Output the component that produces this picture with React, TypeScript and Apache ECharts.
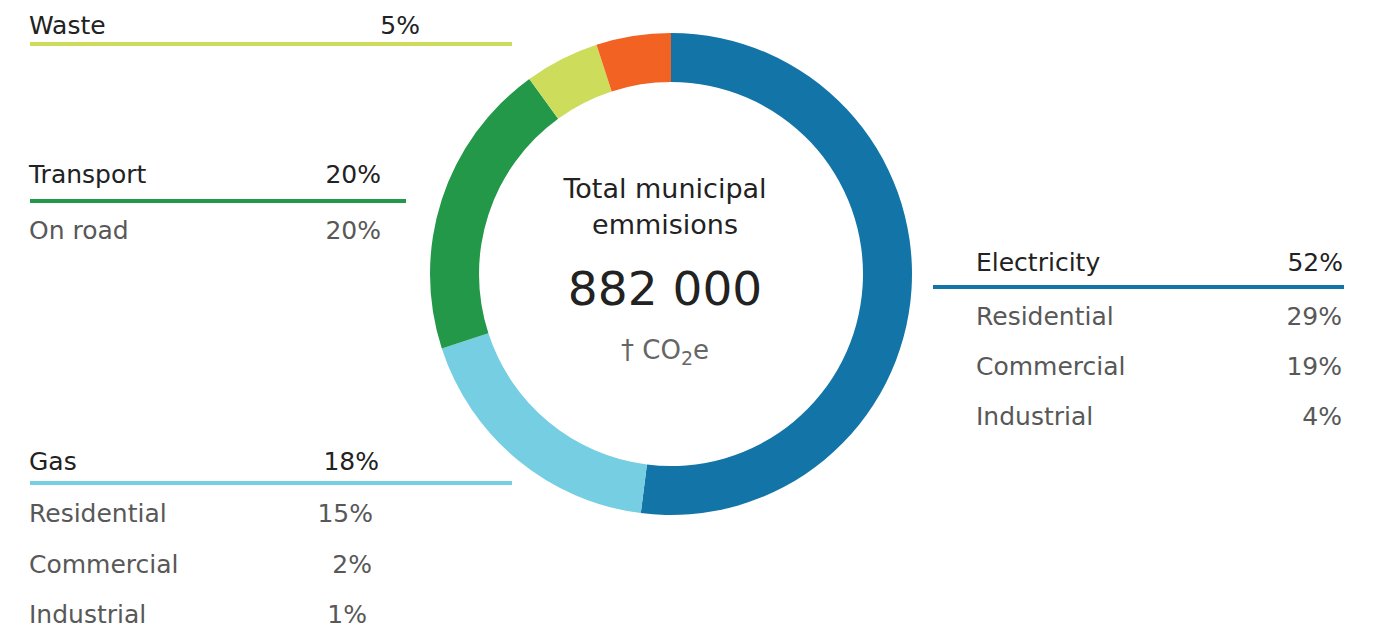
import React, { useEffect, useRef } from "react";
import * as echarts from "echarts";

// ---- data ----
const sectors = ["Electricity", "Gas", "Transport", "Waste", "Other"];
const sectorShares = [52, 18, 20, 5, 5];
const sectorColors = ["#1375a7", "#75cee1", "#239848", "#cddd5b", "#f26223"];

const electricitySubs = ["Residential", "Commercial", "Industrial"];
const electricitySubShares = [29, 19, 4];
const transportSubs = ["On road"];
const transportSubShares = [20];
const gasSubs = ["Residential", "Commercial", "Industrial"];
const gasSubShares = [15, 2, 1];
const wasteSubs: string[] = [];
const wasteSubShares: number[] = [];

const centerTitle = ["Total municipal", "emmisions"];
const totalEmissions = 882000;
const unitParts = ["† CO", "2", "e"];

// ---- layout (positions only) ----
const FONT = "DejaVu Sans";
const panels = [
  {
    sector: "Electricity", subs: electricitySubs, subShares: electricitySubShares,
    textX: 976, pctX: 1343, lineX1: 933, lineX2: 1344, headerY: 262, lineY: 287,
    subYs: [316, 366, 416], subPctX: [1342, 1342, 1342],
  },
  {
    sector: "Transport", subs: transportSubs, subShares: transportSubShares,
    textX: 29, pctX: 381, lineX1: 30, lineX2: 406, headerY: 174, lineY: 201,
    subYs: [230], subPctX: [381],
  },
  {
    sector: "Gas", subs: gasSubs, subShares: gasSubShares,
    textX: 29, pctX: 379, lineX1: 30, lineX2: 512, headerY: 461, lineY: 483,
    subYs: [513, 564, 614], subPctX: [373, 372, 367],
  },
  {
    sector: "Waste", subs: wasteSubs, subShares: wasteSubShares,
    textX: 29, pctX: 420, lineX1: 30, lineX2: 512, headerY: 25, lineY: 44,
    subYs: [], subPctX: [],
  },
];

function fmtThousands(n: number): string {
  return String(n).replace(/\B(?=(\d{3})+(?!\d))/g, " ");
}

function txt(x: number, y: number, text: string, size: number, color: string, align: string, weight: any = "normal") {
  return {
    type: "text",
    x,
    y,
    silent: true,
    style: {
      text,
      fill: color,
      fontSize: size,
      fontFamily: FONT,
      fontWeight: weight,
      align,
      verticalAlign: "middle",
      textAlign: align,
      textVerticalAlign: "middle",
    },
  };
}

export default function App() {
  const ref = useRef<HTMLDivElement>(null);

  useEffect(() => {
    document.body.style.margin = "0";
    if (!ref.current) return;
    const chart = echarts.init(ref.current, undefined, { renderer: "svg" });

    const graphics: any[] = [];
    panels.forEach((p) => {
      const idx = sectors.indexOf(p.sector);
      const color = sectorColors[idx];
      graphics.push(txt(p.textX, p.headerY, p.sector, 25, "#222222", "left"));
      graphics.push(txt(p.pctX, p.headerY, sectorShares[idx] + "%", 25, "#222222", "right"));
      graphics.push({
        type: "line",
        silent: true,
        shape: { x1: p.lineX1, y1: p.lineY, x2: p.lineX2, y2: p.lineY },
        style: { stroke: color, lineWidth: 4 },
      });
      p.subs.forEach((s, i) => {
        graphics.push(txt(p.textX, p.subYs[i], s, 25, "#585858", "left"));
        graphics.push(txt(p.subPctX[i], p.subYs[i], p.subShares[i] + "%", 25, "#585858", "right"));
      });
    });

    // center text
    graphics.push(txt(665, 188, centerTitle[0], 27, "#222222", "center"));
    graphics.push(txt(665, 224, centerTitle[1], 27, "#222222", "center"));
    graphics.push(txt(665, 288, fmtThousands(totalEmissions), 47, "#222222", "center"));
    graphics.push({
      type: "text",
      x: 665,
      y: 350,
      silent: true,
      style: {
        text: `{a|${unitParts[0]}}{s|${unitParts[1]}}{a|${unitParts[2]}}`,
        align: "center",
        verticalAlign: "middle",
        textAlign: "center",
        textVerticalAlign: "middle",
        rich: {
          a: { fontSize: 26, fontFamily: FONT, fill: "#666666", color: "#666666", lineHeight: 34, verticalAlign: "middle" },
          s: { fontSize: 19, fontFamily: FONT, fill: "#666666", color: "#666666", lineHeight: 22, verticalAlign: "bottom" },
        },
      },
    });

    chart.setOption({
      animation: false,
      backgroundColor: "#ffffff",
      series: [
        {
          type: "pie",
          center: [671, 274],
          radius: [192, 241],
          startAngle: 90,
          clockwise: true,
          silent: true,
          avoidLabelOverlap: false,
          label: { show: false },
          labelLine: { show: false },
          emphasis: { disabled: true },
          itemStyle: { borderWidth: 0 },
          data: sectors.map((n, i) => ({
            name: n,
            value: sectorShares[i],
            itemStyle: { color: sectorColors[i] },
          })),
        },
      ],
      graphic: { elements: graphics },
    });

    return () => chart.dispose();
  }, []);

  return <div ref={ref} style={{ width: 1379, height: 628 }} />;
}
